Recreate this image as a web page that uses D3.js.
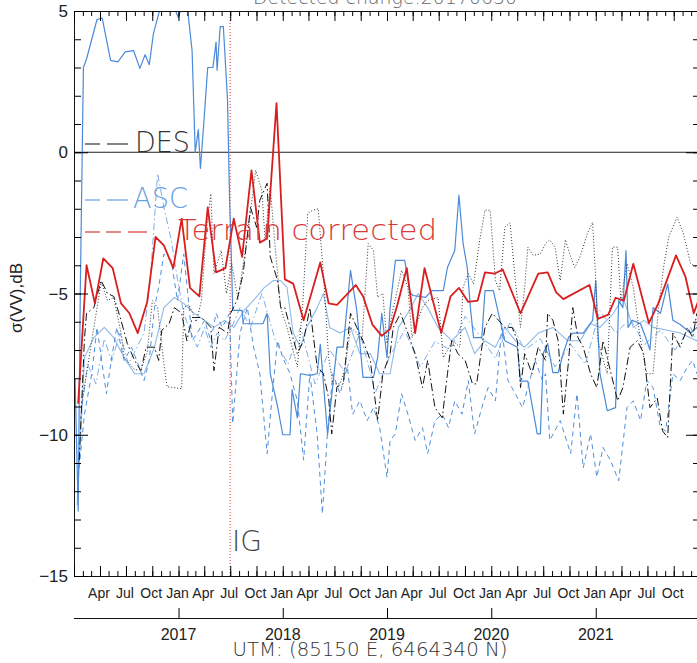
<!DOCTYPE html>
<html><head><meta charset="utf-8">
<script src="https://cdn.jsdelivr.net/npm/d3@7/dist/d3.min.js"></script>
<style>
html,body{margin:0;padding:0;background:#fff;overflow:hidden}
svg{display:block}
</style></head>
<body>
<svg id="c" width="697" height="663"></svg>
<script>
// ---------- DATA (decimal years, sigma0 in dB) ----------
const titleText = "Detected change:20170630";
const utmText = "UTM: (85150 E, 6464340 N)";
const yLabel = "σ(VV),dB";
const eventDate = 2017.495;
const eventLabel = "IG";
const legendLabels = ["DES", "ASC", "Terrain corrected"];
const yMajorTicks = [-15, -10, -5, 0, 5];
const yearTicks = [2017, 2018, 2019, 2020, 2021];

// Terrain corrected (red)
const redT = [2016.04,2016.12,2016.20,2016.28,2016.37,2016.45,2016.53,2016.61,2016.70,2016.78,2016.86,2016.95,2017.03,2017.11,2017.20,2017.28,2017.36,2017.45,2017.53,2017.61,2017.70,2017.78,2017.85,2017.94,2018.02,2018.10,2018.20,2018.36,2018.44,2018.52,2018.70,2018.77,2018.86,2018.95,2019.03,2019.10,2019.19,2019.27,2019.36,2019.52,2019.61,2019.69,2019.78,2019.87,2019.94,2020.03,2020.11,2020.28,2020.45,2020.54,2020.62,2020.69,2020.94,2021.02,2021.12,2021.19,2021.27,2021.36,2021.51,2021.60,2021.77,2021.86,2021.94,2022.01];
const redV = [-8.9,-4.0,-5.35,-3.76,-4.1,-5.35,-5.7,-6.4,-5.3,-3.0,-3.3,-4.1,-2.35,-4.8,-5.1,-1.95,-4.25,-4.1,-2.35,-3.7,-0.64,-3.2,-3.05,1.74,-4.5,-4.65,-5.95,-3.9,-5.35,-5.4,-4.7,-5.1,-6.1,-6.5,-6.25,-5.4,-4.1,-6.4,-4.1,-6.4,-5.1,-4.8,-5.3,-5.25,-4.25,-4.3,-4.15,-5.7,-4.3,-4.25,-4.95,-5.2,-4.7,-5.9,-5.75,-5.15,-5.25,-3.95,-6.05,-5.35,-3.65,-4.4,-5.7,-5.0];

// ASC main (blue solid)
const ascT = [2016.01,2016.04,2016.06,2016.09,2016.12,2016.22,2016.27,2016.35,2016.42,2016.49,2016.57,2016.63,2016.68,2016.72,2016.76,2016.81,2016.85,2016.94,2017.00,2017.04,2017.08,2017.13,2017.16,2017.19,2017.21,2017.24,2017.28,2017.33,2017.36,2017.37,2017.40,2017.43,2017.47,2017.49,2017.50,2017.52,2017.61,2017.62,2017.81,2017.85,2017.88,2017.95,2018.00,2018.07,2018.09,2018.14,2018.17,2018.26,2018.33,2018.36,2018.43,2018.45,2018.52,2018.58,2018.65,2018.67,2018.71,2018.77,2018.87,2018.91,2018.95,2019.00,2019.03,2019.08,2019.17,2019.22,2019.25,2019.37,2019.43,2019.54,2019.58,2019.65,2019.69,2019.73,2019.77,2019.80,2019.83,2019.91,2019.94,2020.02,2020.07,2020.13,2020.25,2020.28,2020.35,2020.44,2020.47,2020.50,2020.54,2020.59,2020.64,2020.69,2020.74,2020.78,2020.88,2020.97,2021.00,2021.04,2021.11,2021.19,2021.22,2021.26,2021.29,2021.31,2021.35,2021.43,2021.49,2021.52,2021.55,2021.62,2021.69,2021.74,2021.81,2021.91,2021.97,2022.00];
const ascV = [-8.0,-12.7,-5.0,3.0,3.3,4.7,4.75,3.25,3.2,3.55,3.6,2.97,3.45,3.1,4.2,4.9,5.4,5.3,4.75,5.4,5.3,3.6,0.0,0.8,-0.57,0.9,3.0,3.0,3.9,2.9,4.45,4.45,1.85,-1.7,-2.77,-5.6,-5.6,-6.07,-6.07,-5.7,-7.84,-9.0,-10.0,-10.0,-8.4,-9.4,-7.84,-7.9,-7.84,-6.8,-10.0,-9.27,-6.9,-6.9,-4.18,-4.66,-5.6,-7.97,-7.97,-7.27,-5.7,-7.27,-5.5,-3.83,-3.83,-4.96,-5.07,-5.14,-4.9,-4.9,-4.08,-3.48,-1.52,-3.23,-4.08,-5.5,-6.56,-6.56,-4.9,-4.9,-5.72,-6.67,-6.9,-8.1,-8.1,-9.97,-9.97,-7.1,-6.77,-7.8,-7.8,-7.1,-6.55,-6.4,-6.4,-5.95,-4.54,-7.84,-9.15,-9.04,-5.25,-5.5,-3.48,-6.2,-5.95,-6.07,-6.67,-7.0,-5.5,-5.7,-4.66,-5.95,-6.1,-6.4,-6.2,-6.5];

// ASC (blue dashed)
const ascDashT = [2016.04,2016.10,2016.17,2016.22,2016.31,2016.36,2016.41,2016.48,2016.55,2016.60,2016.67,2016.72,2016.77,2016.81,2016.86,2016.93,2016.99,2017.05,2017.10,2017.13,2017.18,2017.25,2017.31,2017.36,2017.42,2017.49,2017.52,2017.59,2017.66,2017.72,2017.78,2017.85,2017.90,2017.95,2018.00,2018.07,2018.14,2018.20,2018.26,2018.33,2018.38,2018.43,2018.48,2018.55,2018.62,2018.67,2018.74,2018.81,2018.87,2018.93,2019.00,2019.03,2019.08,2019.14,2019.20,2019.27,2019.34,2019.39,2019.46,2019.53,2019.59,2019.65,2019.72,2019.78,2019.84,2019.91,2019.97,2020.04,2020.10,2020.16,2020.23,2020.30,2020.35,2020.42,2020.49,2020.52,2020.56,2020.66,2020.76,2020.82,2020.88,2020.95,2021.01,2021.07,2021.14,2021.22,2021.30,2021.36,2021.43,2021.49,2021.55,2021.62,2021.67,2021.74,2021.81,2021.88,2021.93,2021.97];
const ascDashV = [-11.5,-9.27,-7.84,-6.2,-8.55,-7.27,-6.2,-7.37,-6.9,-7.37,-8.08,-7.37,-5.5,-4.78,-3.6,-3.83,-5.25,-3.6,-5.4,-6.67,-6.4,-5.95,-6.67,-5.7,-6.2,-5.7,-9.6,-6.4,-5.5,-6.9,-7.84,-10.67,-8.55,-6.67,-7.27,-7.84,-8.8,-10.9,-7.84,-9.97,-12.8,-9.87,-7.84,-8.55,-7.6,-9.27,-8.8,-9.5,-9.04,-9.75,-11.5,-10.2,-9.97,-8.55,-9.27,-10.2,-9.75,-10.67,-9.5,-9.27,-9.75,-8.8,-9.27,-8.08,-9.97,-9.04,-8.33,-8.8,-6.2,-8.08,-8.55,-9.04,-8.33,-7.37,-8.08,-7.84,-10.2,-9.5,-10.67,-8.55,-11.17,-9.97,-11.5,-10.45,-10.9,-11.63,-9.04,-8.8,-9.5,-8.08,-8.33,-9.75,-9.87,-7.84,-8.08,-7.6,-7.37,-7.84];

// ASC (light blue solid)
const ascLightT = [2016.03,2016.10,2016.19,2016.29,2016.38,2016.48,2016.58,2016.67,2016.77,2016.86,2016.96,2017.05,2017.15,2017.25,2017.34,2017.44,2017.53,2017.63,2017.73,2017.82,2017.91,2017.98,2018.04,2018.10,2018.17,2018.23,2018.33,2018.39,2018.45,2018.55,2018.65,2018.74,2018.84,2018.93,2019.03,2019.11,2019.20,2019.30,2019.39,2019.49,2019.62,2019.75,2019.84,2019.94,2020.04,2020.13,2020.23,2020.32,2020.45,2020.59,2020.73,2020.85,2020.95,2021.04,2021.17,2021.26,2021.36,2021.46,2021.55,2021.69,2021.81,2021.97];
const ascLightV = [-12.5,-7.27,-6.56,-6.2,-6.56,-7.27,-7.84,-7.84,-6.9,-5.5,-5.14,-5.35,-5.7,-5.95,-6.2,-5.95,-6.2,-5.6,-5.2,-4.8,-4.54,-4.54,-4.78,-6.4,-6.9,-6.2,-5.5,-5.0,-6.2,-6.4,-6.2,-7.13,-7.13,-7.84,-7.84,-6.2,-5.7,-5.0,-5.5,-6.2,-6.67,-6.2,-7.13,-6.67,-6.9,-6.2,-6.67,-6.9,-6.4,-6.2,-6.67,-6.67,-6.07,-6.2,-5.7,-5.14,-6.2,-5.95,-6.2,-6.3,-6.4,-6.67];

// ASC (light blue dash-dot)
const ascDotDashT = [2016.06,2016.13,2016.21,2016.29,2016.36,2016.44,2016.52,2016.59,2016.67,2016.73,2016.80,2016.86,2016.93,2016.99,2017.05,2017.12,2017.18,2017.25,2017.31,2017.37,2017.44,2017.51,2017.59,2017.69,2017.80,2017.93,2018.05,2018.17,2018.31,2018.45,2018.60,2018.74,2018.89,2019.03,2019.17,2019.32,2019.46,2019.61,2019.75,2019.89,2020.04,2020.18,2020.32,2020.47,2020.61,2020.76,2020.90,2021.04,2021.19,2021.33,2021.47,2021.62,2021.76,2021.91,2021.97];
const ascDotDashV = [-9.5,-7.5,-8.2,-6.6,-7.4,-6.4,-7.5,-7.0,-6.4,-4.5,-0.75,-1.95,-3.1,-4.5,-5.7,-6.4,-6.9,-6.2,-6.9,-6.4,-6.67,-6.2,-5.5,-6.2,-5.0,-6.67,-7.5,-6.2,-8.2,-7.0,-7.8,-6.4,-8.5,-7.2,-6.3,-7.6,-6.7,-7.0,-5.8,-6.5,-7.3,-6.0,-7.0,-6.6,-7.6,-6.8,-7.5,-5.6,-6.4,-5.9,-6.8,-6.3,-7.0,-6.2,-6.7];

// DES (black dash-dot)
const desT = [2016.05,2016.10,2016.12,2016.19,2016.26,2016.32,2016.38,2016.45,2016.51,2016.58,2016.64,2016.69,2016.77,2016.81,2016.84,2016.91,2016.96,2017.03,2017.08,2017.13,2017.22,2017.31,2017.34,2017.39,2017.47,2017.50,2017.56,2017.62,2017.69,2017.75,2017.78,2017.85,2017.88,2017.95,2017.98,2018.02,2018.07,2018.14,2018.20,2018.26,2018.33,2018.39,2018.44,2018.47,2018.52,2018.58,2018.65,2018.71,2018.77,2018.84,2018.91,2018.96,2019.03,2019.06,2019.13,2019.20,2019.27,2019.34,2019.39,2019.46,2019.53,2019.58,2019.62,2019.68,2019.75,2019.82,2019.86,2019.91,2019.94,2020.01,2020.07,2020.13,2020.20,2020.25,2020.28,2020.32,2020.39,2020.45,2020.52,2020.54,2020.59,2020.64,2020.69,2020.74,2020.78,2020.83,2020.88,2020.95,2021.01,2021.07,2021.14,2021.21,2021.26,2021.33,2021.40,2021.46,2021.52,2021.59,2021.64,2021.69,2021.74,2021.81,2021.88,2021.93,2021.97];
const desV = [-10.9,-6.6,-5.7,-5.5,-4.54,-5.0,-5.1,-5.95,-6.77,-7.37,-7.73,-6.9,-6.9,-7.37,-6.3,-6.07,-5.5,-5.7,-6.67,-5.85,-5.85,-6.2,-7.73,-6.2,-6.4,-5.7,-5.25,-4.3,-1.95,-2.66,-1.7,-1.1,-3.7,-4.54,-5.5,-5.5,-6.2,-7.13,-6.67,-5.5,-7.6,-7.84,-8.7,-9.97,-8.3,-8.2,-5.7,-6.2,-6.67,-7.37,-9.5,-7.84,-7.13,-6.2,-5.7,-6.4,-7.13,-8.33,-7.37,-9.04,-9.4,-7.84,-6.67,-7.13,-7.37,-8.2,-8.2,-6.9,-6.2,-5.7,-5.95,-6.2,-6.2,-6.67,-8.33,-7.13,-7.84,-6.9,-7.37,-5.7,-5.95,-6.67,-9.27,-7.37,-5.5,-6.56,-6.9,-7.84,-8.33,-6.67,-7.73,-8.8,-8.33,-6.9,-6.67,-7.13,-9.04,-8.7,-9.86,-10.1,-6.4,-6.9,-6.2,-6.56,-5.7];

// DES (black dotted)
const desDotT = [2016.07,2016.16,2016.26,2016.32,2016.38,2016.45,2016.48,2016.58,2016.64,2016.70,2016.75,2016.80,2016.86,2016.89,2017.03,2017.05,2017.10,2017.17,2017.22,2017.27,2017.31,2017.34,2017.41,2017.46,2017.51,2017.57,2017.66,2017.74,2017.80,2017.83,2017.88,2017.93,2017.98,2018.04,2018.14,2018.19,2018.24,2018.29,2018.34,2018.39,2018.44,2018.48,2018.55,2018.60,2018.65,2018.71,2018.76,2018.82,2018.87,2018.91,2018.96,2019.00,2019.05,2019.14,2019.20,2019.24,2019.34,2019.39,2019.49,2019.54,2019.63,2019.70,2019.73,2019.78,2019.83,2019.89,2019.94,2019.99,2020.04,2020.08,2020.13,2020.18,2020.23,2020.28,2020.32,2020.35,2020.40,2020.47,2020.52,2020.56,2020.61,2020.66,2020.71,2020.76,2020.80,2020.85,2020.92,2020.97,2021.00,2021.02,2021.11,2021.16,2021.21,2021.24,2021.30,2021.36,2021.43,2021.49,2021.55,2021.60,2021.65,2021.70,2021.78,2021.84,2021.91,2021.97];
const desDotV = [-9.0,-6.9,-4.6,-5.25,-5.14,-6.4,-7.27,-7.7,-7.7,-7.1,-5.25,-5.5,-7.5,-8.3,-8.37,-5.5,-5.4,-6.0,-5.25,-2.65,-1.47,-4.3,-3.48,-5.0,-3.94,-5.2,-3.0,-0.64,-1.35,-3.1,-1.24,-3.48,-5.5,-6.2,-7.6,-5.5,-2.16,-2.05,-2.0,-4.3,-7.27,-8.2,-8.2,-7.6,-6.2,-6.4,-6.67,-3.23,-3.48,-5.14,-5.0,-6.77,-5.7,-4.18,-4.78,-6.56,-5.5,-5.25,-5.14,-7.27,-6.67,-6.9,-4.78,-4.3,-4.66,-3.1,-2.05,-2.05,-4.54,-4.9,-2.65,-2.5,-4.54,-6.2,-4.78,-3.36,-3.65,-3.6,-3.23,-3.1,-3.36,-4.54,-3.1,-3.7,-4.08,-3.7,-2.87,-2.48,-4.54,-6.67,-7.84,-3.36,-3.36,-5.25,-3.94,-4.78,-6.67,-7.84,-7.84,-5.6,-4.08,-3.0,-2.3,-2.87,-3.94,-4.08];

// ---------- CHART ----------
const L = 74, R = 700, T = 11, B = 576;
const toDate = t => { const yr = Math.floor(t); const a = new Date(yr,0,1), b = new Date(yr+1,0,1); return new Date(+a + (t-yr)*(b-a)); };
const x = d3.scaleTime().domain([new Date(2016,0,1), new Date(2022,0,1)]).range([L, R]);
const y = d3.scaleLinear().domain([-15, 5]).range([B, T]);
const svg = d3.select("#c");
const FONT = "'Liberation Sans', Arial, sans-serif";
const THIN = "'DejaVu Sans', sans-serif";

svg.append("defs").append("clipPath").attr("id","clip")
  .append("rect").attr("x",L).attr("y",T).attr("width",R-L).attr("height",B-T);

// title (cut at top, as in the reference)
svg.append("text").attr("x",385).attr("y",4).attr("text-anchor","middle")
  .attr("font-family",THIN).attr("font-weight",200).attr("font-size",19).attr("fill","#666")
  .attr("textLength",264).attr("lengthAdjust","spacingAndGlyphs").text(titleText);

const plot = svg.append("g").attr("clip-path","url(#clip)");

// zero line
plot.append("line").attr("x1",L).attr("x2",R).attr("y1",y(0)).attr("y2",y(0)).attr("stroke","#222").attr("stroke-width",1);

// event line
plot.append("line").attr("x1",x(toDate(eventDate))).attr("x2",x(toDate(eventDate)))
  .attr("y1",T).attr("y2",B).attr("stroke","#e03030").attr("stroke-width",1).attr("stroke-dasharray","1,2");

const line = d3.line().x(d => x(toDate(d[0]))).y(d => y(d[1]));
const series = [
  {t: ascDotDashT, v: ascDotDashV, c: "#7eaee6", w: 1, dash: "7,3,1.5,3"},
  {t: ascLightT, v: ascLightV, c: "#8fb9e8", w: 1.1, dash: null},
  {t: ascDashT, v: ascDashV, c: "#4f8fdb", w: 1, dash: "5,4"},
  {t: ascT, v: ascV, c: "#4a8ad8", w: 1.2, dash: null},
  {t: desT, v: desV, c: "#111", w: 1, dash: "8,3,1.5,3"},
  {t: desDotT, v: desDotV, c: "#333", w: 1, dash: "1,2"},
  {t: redT, v: redV, c: "#d81e1e", w: 1.8, dash: null}
];
series.forEach(s => {
  const data = s.t.map((t,i) => [t, s.v[i]]);
  plot.append("path").datum(data).attr("d", line).attr("fill","none")
    .attr("stroke", s.c).attr("stroke-width", s.w)
    .attr("stroke-dasharray", s.dash).attr("stroke-linejoin","round");
});

// frame
svg.append("rect").attr("x",L+0.5).attr("y",T+0.5).attr("width",R-L).attr("height",B-T)
  .attr("fill","none").attr("stroke","#111").attr("stroke-width",1);

const fmtY = d => d < 0 ? "−" + Math.abs(d) : String(d);
// left axis
const gl = svg.append("g").attr("transform",`translate(${L},0)`);
gl.call(d3.axisRight(y).ticks(20).tickSize(7).tickFormat(""));
gl.select(".domain").remove();
const gl2 = svg.append("g").attr("transform",`translate(${L},0)`);
gl2.call(d3.axisRight(y).tickValues(yMajorTicks).tickSize(14).tickFormat(""));
gl2.select(".domain").remove();
svg.append("g").selectAll("text").data(yMajorTicks).join("text")
  .attr("x", 68).attr("y", d => y(d) + 6).attr("text-anchor","end")
  .attr("font-family",FONT).attr("font-size",17).attr("fill","#222").text(fmtY);
// right axis
const gr = svg.append("g").attr("transform",`translate(${R},0)`);
gr.call(d3.axisLeft(y).ticks(20).tickSize(7).tickFormat(""));
gr.select(".domain").remove();
const gr2 = svg.append("g").attr("transform",`translate(${R},0)`);
gr2.call(d3.axisLeft(y).tickValues(yMajorTicks).tickSize(14).tickFormat(""));
gr2.select(".domain").remove();

// bottom & top month ticks
const months = d3.timeMonth.range(new Date(2016,0,1), new Date(2022,0,2));
const quarters = d3.timeMonth.every(3).range(new Date(2016,0,1), new Date(2022,0,2));
[[B, -1],[T, 1]].forEach(([yy, dir]) => {
  const g1 = svg.append("g").attr("transform",`translate(0,${yy})`);
  g1.call((dir < 0 ? d3.axisTop(x) : d3.axisBottom(x)).tickValues(months).tickSize(5).tickFormat(""));
  g1.select(".domain").remove();
  const g2 = svg.append("g").attr("transform",`translate(0,${yy})`);
  g2.call((dir < 0 ? d3.axisTop(x) : d3.axisBottom(x)).tickValues(quarters).tickSize(10).tickFormat(""));
  g2.select(".domain").remove();
});
const qLabels = quarters.filter(d => d > new Date(2016,0,1) && d < new Date(2022,0,1));
svg.append("g").selectAll("text").data(qLabels).join("text")
  .attr("x", d => x(d) - 1).attr("y", 598).attr("text-anchor","middle")
  .attr("font-family",FONT).attr("font-size",14).attr("fill","#222")
  .text(d3.timeFormat("%b"));

// year axis
const gy = svg.append("g").attr("transform",`translate(0,618)`);
gy.call(d3.axisTop(x).tickValues(yearTicks.map(v => new Date(v,0,1))).tickSize(10).tickFormat(""));
gy.select(".domain").remove();
svg.append("line").attr("x1",L).attr("x2",R).attr("y1",618.5).attr("y2",618.5).attr("stroke","#111");
svg.append("g").selectAll("text").data(yearTicks).join("text")
  .attr("x", v => x(new Date(v,0,1))).attr("y", 640).attr("text-anchor","middle")
  .attr("font-family",FONT).attr("font-size",16).attr("fill","#222").text(v => v);

// UTM label
svg.append("text").attr("x",370).attr("y",656).attr("text-anchor","middle")
  .attr("font-family",THIN).attr("font-weight",200).attr("font-size",20).attr("fill","#333")
  .attr("textLength",275).attr("lengthAdjust","spacingAndGlyphs").text(utmText);

// y label
svg.append("text").attr("transform","translate(22,298) rotate(-90)").attr("text-anchor","middle")
  .attr("font-family",FONT).attr("font-size",17).attr("fill","#222").text(yLabel);

// IG label
svg.append("text").attr("x", x(toDate(eventDate)) + 2).attr("y", 551)
  .attr("font-family",THIN).attr("font-weight",200).attr("font-size",28).attr("fill","#444").text(eventLabel);

// legend
const leg = [
  {label: legendLabels[0], c: "#333", yy: 152, segs: [[85,100],[107,128]], tx: 135, w: 55},
  {label: legendLabels[1], c: "#6a9fe0", yy: 208, segs: [[85,100],[107,128]], tx: 133, w: 55},
  {label: legendLabels[2], c: "#d83a3a", yy: 240, segs: [[85,100],[106,121],[128,147]], tx: 178, w: 259}
];
leg.forEach(e => {
  e.segs.forEach(s => svg.append("line").attr("x1",s[0]).attr("x2",s[1])
    .attr("y1",e.yy-8).attr("y2",e.yy-8).attr("stroke",e.c).attr("stroke-width",1.2));
  svg.append("text").attr("x",e.tx).attr("y",e.yy).attr("font-family",THIN).attr("font-weight",200)
    .attr("font-size",28).attr("fill",e.c)
    .attr("textLength",e.w).attr("lengthAdjust","spacingAndGlyphs").text(e.label);
});
</script>
</body></html>
